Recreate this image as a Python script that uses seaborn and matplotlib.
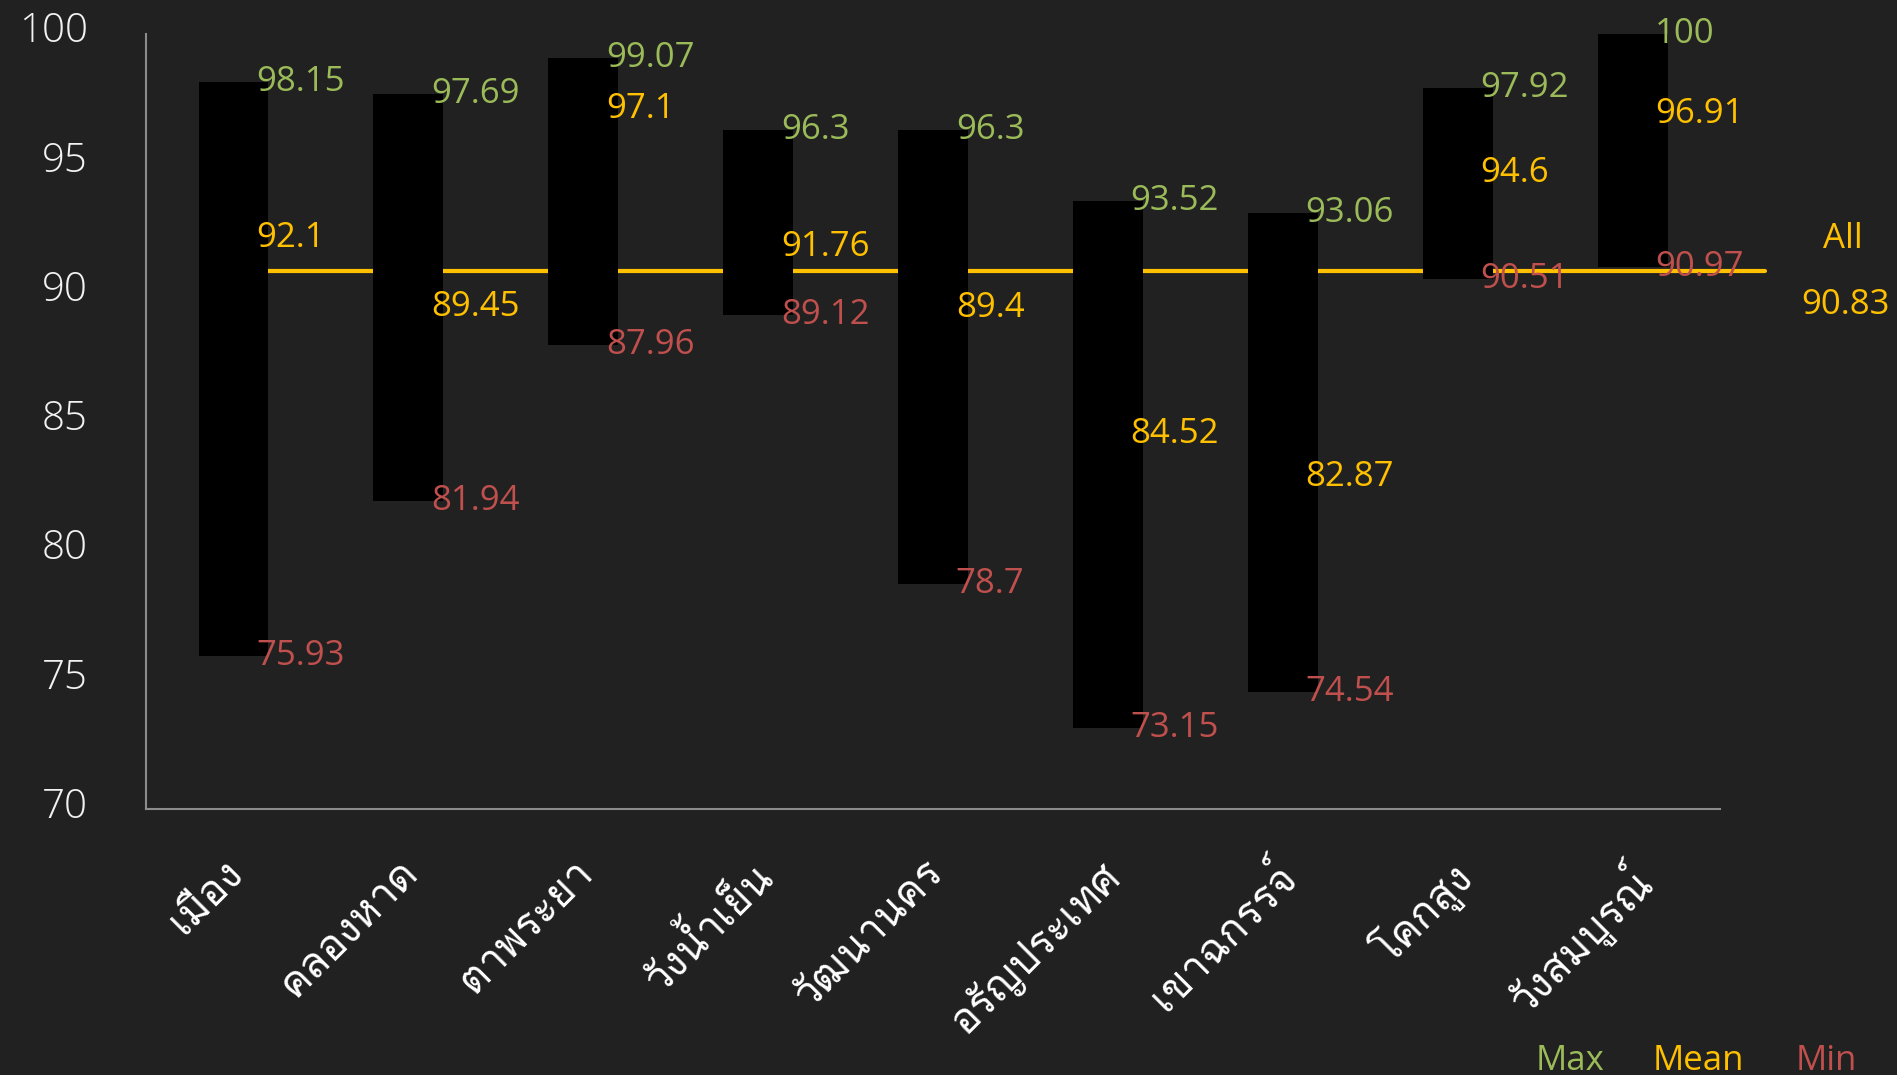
import matplotlib
matplotlib.use("Agg")
import matplotlib.pyplot as plt
from matplotlib import font_manager
from matplotlib.ft2font import FT2Font
from matplotlib.transforms import ScaledTranslation
import numpy as np
import pandas as pd
import seaborn as sns

# data
amphoe = ["เมือง", "คลองหาด", "ตาพระยา", "วังน้ำเย็น", "วัฒนานคร",
          "อรัญประเทศ", "เขาฉกรรจ์", "โคกสูง", "วังสมบูรณ์"]
max_vals = [98.15, 97.69, 99.07, 96.3, 96.3, 93.52, 93.06, 97.92, 100]
mean_vals = [92.1, 89.45, 97.1, 91.76, 89.4, 84.52, 82.87, 94.6, 96.91]
min_vals = [75.93, 81.94, 87.96, 89.12, 78.7, 73.15, 74.54, 90.51, 90.97]
all_mean = 90.83
y_ticks = [70, 75, 80, 85, 90, 95, 100]

BG = "#212121"
GREEN = "#9BBB59"
YELLOW = "#FFC000"
RED = "#C0504D"


def find_thai_font():
    for f in font_manager.fontManager.ttflist:
        try:
            cmap = FT2Font(f.fname).get_charmap()
        except Exception:
            continue
        if 0x0E21 in cmap and 0x0E37 in cmap and 0x0E49 in cmap:
            return f.name
    return "DejaVu Sans"


thai_font = find_thai_font()

sns.set_theme(style="white")
plt.rcParams["font.family"] = ["Open Sans", thai_font, "DejaVu Sans"]

df = pd.DataFrame({"amphoe": amphoe, "max": max_vals, "mean": mean_vals, "min": min_vals})
df["range"] = df["max"] - df["min"]

fig = plt.figure(figsize=(18.97, 10.75), dpi=100, facecolor=BG)
ax = fig.add_axes([0.077, 0.2471, 0.8297, 0.7214])
ax.set_facecolor(BG)

n = len(amphoe)
# overall mean line, goes past the axes on the right
ax.plot([0.2, n - 0.24], [all_mean, all_mean], color=YELLOW, lw=3, zorder=1, clip_on=False)

sns.barplot(data=df, x="amphoe", y="range", bottom=df["min"].values, color="black",
            width=0.4, errorbar=None, saturation=1, linewidth=0, edgecolor="black",
            ax=ax, zorder=2)

fs = 25
for i, row in df.iterrows():
    ax.text(i + 0.13, row["max"], f"{row['max']:g}", color=GREEN, fontsize=fs,
            ha="left", va="center", zorder=3)
    ax.text(i + 0.13, row["mean"], f"{row['mean']:g}", color=YELLOW, fontsize=fs,
            ha="left", va="center", zorder=3)
    ax.text(i + 0.13, row["min"], f"{row['min']:g}", color=RED, fontsize=fs,
            ha="left", va="center", zorder=3)

ax.text(n + 0.2, all_mean + 1.25, "All", color=YELLOW, fontsize=fs, ha="center", va="center")
ax.text(n + 0.22, all_mean - 1.3, f"{all_mean:g}", color=YELLOW, fontsize=fs,
        ha="center", va="center")

ax.set_xlim(-0.5, n - 0.5)
ax.set_ylim(70, 100)
ax.set_yticks(y_ticks)
ax.set_yticklabels([str(t) for t in y_ticks], fontsize=29, color="#F2F2F2", fontweight="light")
ax.set_xticks(range(n))
ax.set_xticklabels(amphoe, rotation=45, ha="right", rotation_mode="anchor",
                   fontsize=30, color="white", fontfamily=[thai_font, "DejaVu Sans"])
ax.tick_params(axis="x", length=0, pad=32)
ax.tick_params(axis="y", length=0, pad=42)
ax.set_xlabel("")
ax.set_ylabel("")

# y labels sit a little above their ticks in the original
shift_y = ScaledTranslation(0, 7 / 100, fig.dpi_scale_trans)
for lab in ax.get_yticklabels():
    lab.set_transform(lab.get_transform() + shift_y)
shift_x = ScaledTranslation(-9 / 100, 0, fig.dpi_scale_trans)
for lab in ax.get_xticklabels():
    lab.set_transform(lab.get_transform() + shift_x)

for side in ["top", "right"]:
    ax.spines[side].set_visible(False)
for side in ["left", "bottom"]:
    ax.spines[side].set_color("#8C8C8C")
    ax.spines[side].set_linewidth(1.5)

# legend as coloured words
for x, word, c in [(0.8277, "Max", GREEN), (0.8955, "Mean", YELLOW), (0.9625, "Min", RED)]:
    fig.text(x, 0.013, word, color=c, fontsize=fs, ha="center", va="center")

fig.savefig("out.png", dpi=100, facecolor=BG)
